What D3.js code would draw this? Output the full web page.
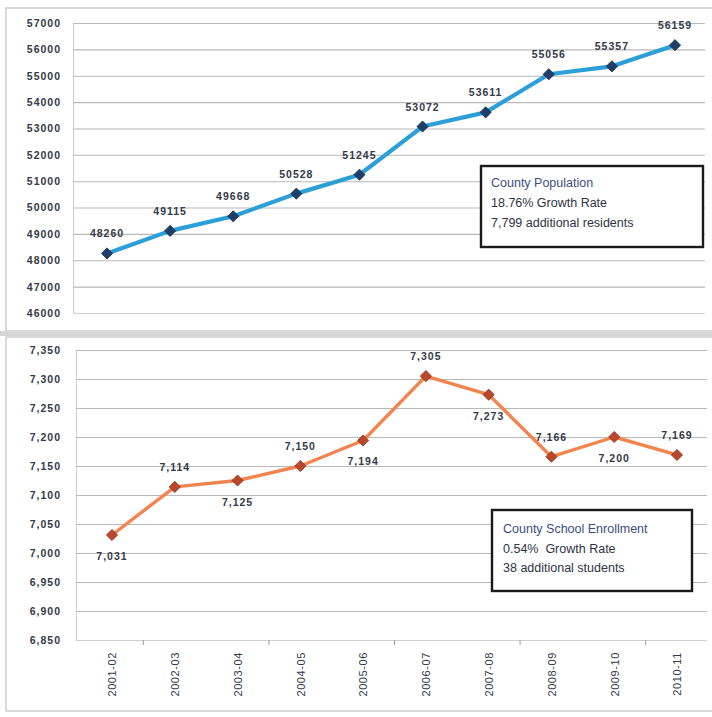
<!DOCTYPE html>
<html>
<head>
<meta charset="utf-8">
<script src="https://cdn.jsdelivr.net/npm/d3@7"></script>
<style>
  html, body { margin: 0; padding: 0; background: #fff; }
  svg { display: block; }
  text { font-family: "Liberation Sans", Arial, sans-serif; white-space: pre; }
</style>
</head>
<body>
<svg id="chart" width="712" height="717"></svg>
<script>
// ---- data ----
const years = ["2001-02","2002-03","2003-04","2004-05","2005-06","2006-07","2007-08","2008-09","2009-10","2010-11"];
const population = [48260, 49115, 49668, 50528, 51245, 53072, 53611, 55056, 55357, 56159];
const enrollment = [7031, 7114, 7125, 7150, 7194, 7305, 7273, 7166, 7200, 7169];
const popTicks = [46000,47000,48000,49000,50000,51000,52000,53000,54000,55000,56000,57000];
const enrTicks = [6850,6900,6950,7000,7050,7100,7150,7200,7250,7300,7350];
const enrLabelBelow = [true,false,true,false,true,false,true,false,true,false];
const popNote = ["County Population","18.76% Growth Rate","7,799 additional residents"];
const enrNote = ["County School Enrollment","0.54%  Growth Rate","38 additional students"];

const svg = d3.select("#chart");
const textColor = "#333a48";
const gridColor = "#b9b9b9";
const fmtComma = d3.format(",");

// ---- frames ----
svg.append("rect").attr("x",6).attr("y",8).attr("width",720).attr("height",323)
  .attr("fill","#fff").attr("stroke","#c4c4c4").attr("stroke-width",1.2);
svg.append("rect").attr("x",0).attr("y",331).attr("width",712).attr("height",5).attr("fill","#d6d6d6");
svg.append("rect").attr("x",6).attr("y",337).attr("width",720).attr("height",374)
  .attr("fill","#fff").attr("stroke","#c4c4c4").attr("stroke-width",1.2);

// ---- generic chart builder ----
function buildChart(opt) {
  const g = svg.append("g");
  const x = d3.scalePoint().domain(years).range(opt.xRange);
  const y = d3.scaleLinear().domain(opt.yDomain).range(opt.yRange);

  // gridlines + y labels via axis
  const yAxis = d3.axisLeft(y).tickValues(opt.ticks).tickFormat(opt.tickFmt)
    .tickSize(-(opt.gridRight - opt.axisX)).tickPadding(opt.axisX - opt.labelRight);
  const ya = g.append("g").attr("transform", `translate(${opt.axisX},0)`).call(yAxis);
  ya.select(".domain").attr("stroke", "#cfcfcf").attr("stroke-width", 1);
  ya.selectAll(".tick line").attr("stroke", gridColor).attr("stroke-width", 1.1)
    .filter(d => d === opt.yDomain[0]).attr("stroke", opt.baseColor);
  ya.selectAll(".tick text").attr("fill", textColor).attr("font-size", 10.5)
    .attr("font-weight", "bold").attr("letter-spacing", 1);

  // line
  g.append("path").datum(opt.values)
    .attr("fill", "none").attr("stroke", opt.lineColor).attr("stroke-width", opt.lineWidth)
    .attr("stroke-linejoin", "round")
    .attr("d", d3.line().x((d,i) => x(years[i])).y(d => y(d)));

  // markers
  const sym = d3.symbol().type(d3.symbolSquare).size(62);
  g.selectAll(".mk").data(opt.values).enter().append("path")
    .attr("d", sym)
    .attr("transform", (d,i) => `translate(${x(years[i])},${y(d)}) rotate(45)`)
    .attr("fill", opt.markerColor).attr("stroke", opt.markerStroke).attr("stroke-width", 0.8);

  // data labels
  g.selectAll(".lb").data(opt.values).enter().append("text")
    .attr("x", (d,i) => x(years[i]))
    .attr("y", (d,i) => y(d) + (opt.below && opt.below[i] ? 25 : -16))
    .attr("text-anchor", "middle").attr("fill", textColor)
    .attr("font-size", 10.5).attr("font-weight", "bold").attr("letter-spacing", 1)
    .text(d => opt.valFmt(d));

  // note box
  const nb = opt.note;
  g.append("rect").attr("x", nb.x).attr("y", nb.y).attr("width", nb.w).attr("height", nb.h)
    .attr("fill", "#fff").attr("stroke", "#1a1a1a").attr("stroke-width", 2.4);
  g.selectAll(".nt").data(nb.lines).enter().append("text")
    .attr("x", nb.tx).attr("y", (d,i) => nb.ty + i * nb.lh)
    .attr("xml:space", "preserve")
    .attr("fill", (d,i) => i === 0 ? "#3b4f7e" : "#2e3344")
    .attr("font-size", 12.5).text(d => d);

  return {x, y, g};
}

// ---- top chart: population ----
buildChart({
  xRange: [107, 675], yDomain: [46000, 57000], yRange: [313, 23],
  ticks: popTicks, tickFmt: d3.format("d"), axisX: 73, gridRight: 705, labelRight: 61,
  values: population, lineColor: "#2c9fd9", lineWidth: 4.2,
  markerColor: "#1f3f6a", markerStroke: "#16304f", baseColor: "none",
  valFmt: d3.format("d"),
  note: {x: 481, y: 166, w: 222, h: 81, tx: 491, ty: 187, lh: 20, lines: popNote}
});

// ---- bottom chart: enrollment ----
const bot = buildChart({
  xRange: [112, 677], yDomain: [6850, 7350], yRange: [640, 350],
  ticks: enrTicks, tickFmt: fmtComma, axisX: 76, gridRight: 707, labelRight: 61,
  values: enrollment, lineColor: "#f2844f", lineWidth: 3.4,
  markerColor: "#b8472c", markerStroke: "#8f3420", baseColor: "#cfcfcf",
  valFmt: fmtComma, below: enrLabelBelow,
  note: {x: 492, y: 510, w: 200, h: 81, tx: 503, ty: 533, lh: 19.5, lines: enrNote}
});

// x axis (category labels) for bottom chart
const xAxis = d3.axisBottom(bot.x).tickSize(0).tickPadding(0);
const xa = bot.g.append("g").attr("transform", "translate(0,640)").call(xAxis);
xa.select(".domain").remove();
xa.selectAll(".tick line").remove();
xa.selectAll(".tick text")
  .attr("transform", "rotate(-90)")
  .attr("text-anchor", "end")
  .attr("x", -12).attr("y", 0).attr("dy", "0.35em")
  .attr("fill", textColor).attr("font-size", 11).attr("letter-spacing", 0.6);

// tick marks between every other category
const tickPos = [0,2,4,6,8].map(i => (bot.x(years[i]) + bot.x(years[i+1])) / 2);
bot.g.selectAll(".xt").data(tickPos).enter().append("line")
  .attr("x1", d => d).attr("x2", d => d).attr("y1", 640).attr("y2", 645)
  .attr("stroke", "#9a9a9a").attr("stroke-width", 1);
</script>
</body>
</html>
